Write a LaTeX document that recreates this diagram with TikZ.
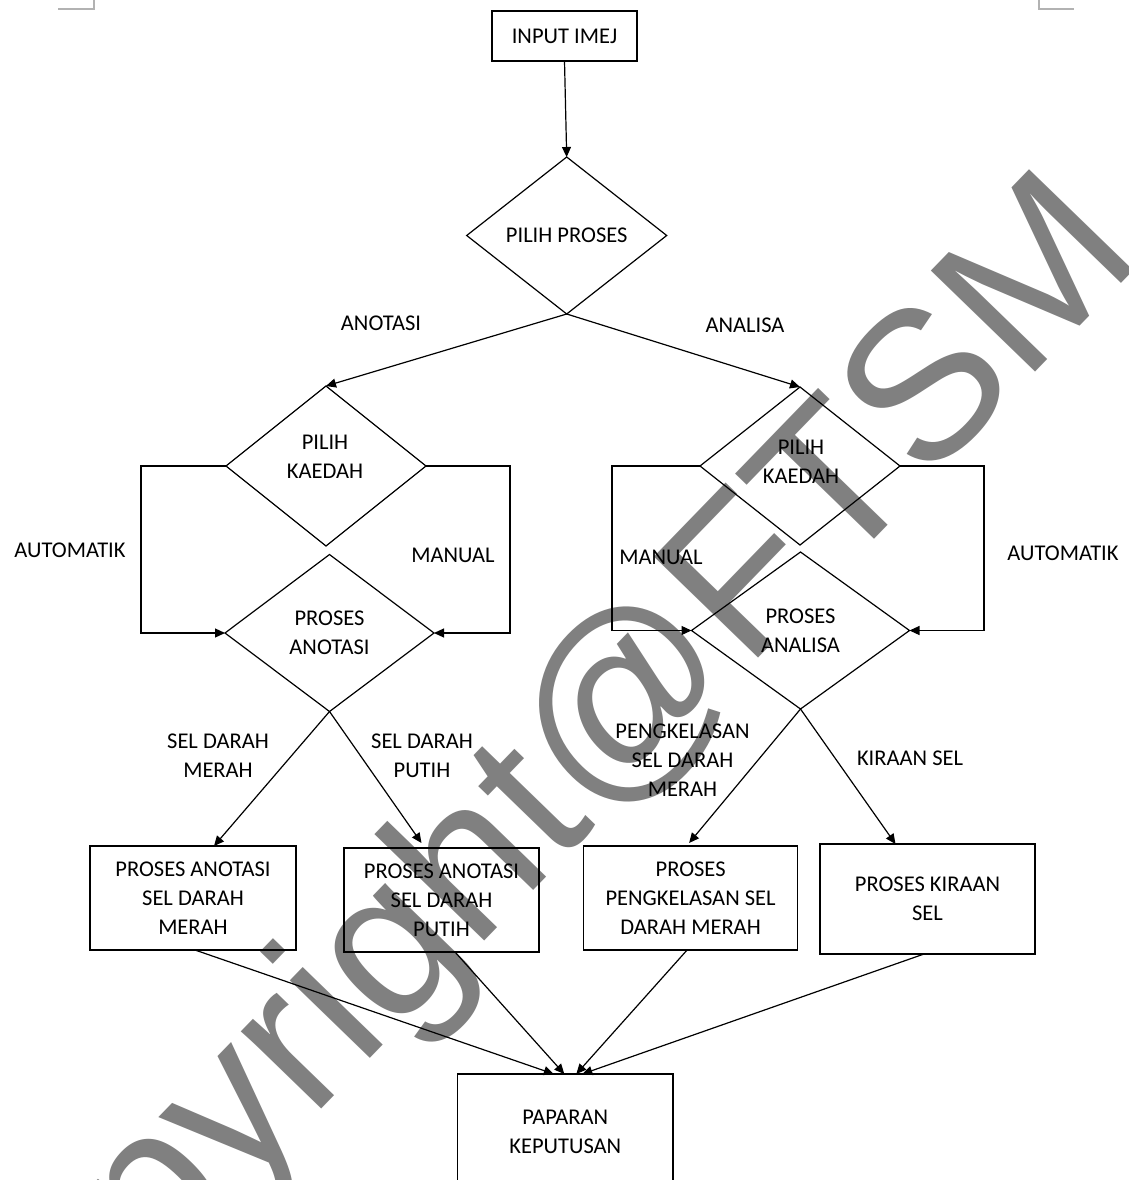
\documentclass[tikz,border=0pt]{standalone}
\usepackage{fontspec}
\setmainfont{Carlito}
\newfontfamily\wmfont{Liberation Sans}
\usetikzlibrary{shapes.geometric,arrows.meta}
\begin{document}
\begin{tikzpicture}[x=1pt,y=-1pt,
  every node/.style={font=\fontsize{22.5}{29}\selectfont, inner sep=0pt, outer sep=0pt},
  ln/.style={line width=1.2pt},
  arr/.style={ln,-{Triangle[length=10pt,width=9pt]}},
  boxn/.style={draw,ln,rectangle},
  dia/.style={draw,ln,diamond},
  txt/.style={align=center},
  wmark/.style={rotate=45.9, anchor=base west, text=black!50, font=\wmfont\fontsize{211}{211}\selectfont}
]
\useasboundingbox (0,0) rectangle (1129,1180);
\clip (0,0) rectangle (1129,1180);
\fill[white] (0,0) rectangle (1129,1180);

% watermark
\node[wmark] (wm) at (-31,1473) {Copyright@FTSM};

% page corner marks
\draw[black!30, line width=1.2pt] (58,9) -- (94,9) -- (94,0);
\draw[black!30, line width=1.2pt] (1039,0) -- (1039,9) -- (1074,9);

% nodes
\node[boxn, minimum width=145pt, minimum height=50pt] (in) at (564.5,36) {INPUT IMEJ};
\node[dia, minimum width=200pt, minimum height=157pt] (pp) at (566.7,235.5) {PILIH PROSES};

\node[dia, minimum width=200pt, minimum height=160pt] (pk1) at (326,466) {};
\node[txt] (pk1t) at (325,457) {PILIH\\KAEDAH};
\node[dia, minimum width=200pt, minimum height=158pt] (pk2) at (800,466) {};
\node[txt] (pk2t) at (801,462) {PILIH\\KAEDAH};

\node[dia, minimum width=209pt, minimum height=157pt, txt] (pa1) at (329.5,633) {PROSES\\ANOTASI};
\node[dia, minimum width=218pt, minimum height=157pt, txt] (pa2) at (800.5,630.5) {PROSES\\ANALISA};

\node[boxn, txt, minimum width=206pt, minimum height=104pt] (b1) at (193,898) {PROSES ANOTASI\\SEL DARAH\\MERAH};
\node[boxn, txt, minimum width=195pt, minimum height=104pt] (b2) at (441.5,900) {PROSES ANOTASI\\SEL DARAH\\PUTIH};
\node[boxn, txt, minimum width=214pt, minimum height=104pt] (b3) at (690.6,898) {PROSES\\PENGKELASAN SEL\\DARAH MERAH};
\node[boxn, txt, minimum width=215pt, minimum height=110pt] (b4) at (927.5,899) {PROSES KIRAAN\\SEL};
\node[boxn, txt, minimum width=215.5pt, minimum height=116pt] (out) at (565.3,1132) {PAPARAN\\KEPUTUSAN};

% labels
\node (lanot) at (381,323) {ANOTASI};
\node (lanal) at (745,325) {ANALISA};
\node (lauto1) at (70,550) {AUTOMATIK};
\node (lman1) at (453,555) {MANUAL};
\node (lman2) at (661,557) {MANUAL};
\node (lauto2) at (1063,553) {AUTOMATIK};
\node[txt] (lsdm) at (218,756) {SEL DARAH\\MERAH};
\node[txt] (lsdp) at (422,756) {SEL DARAH\\PUTIH};
\node[txt] (lpk) at (682.5,760) {PENGKELASAN\\SEL DARAH\\MERAH};
\node (lks) at (910,758) {KIRAAN SEL};

% connectors
\draw[arr] (in.south) -- (pp.north);
\draw[arr] (pp.south) -- (pk1.north);
\draw[arr] (pp.south) -- (pk2.north);

\draw[arr] (pk1.west) -- ++(-85,0) |- (pa1.west);
\draw[arr] (pk1.east) -- ++(84,0) |- (pa1.east);
\draw[arr] (pk2.west) -- ++(-88,0) |- (pa2.west);
\draw[arr] (pk2.east) -- ++(84,0) |- (pa2.east);

\draw[arr] (pa1.south) -- ([xshift=21pt]b1.north);
\draw[arr] (pa1.south) -- ([xshift=-20pt,yshift=5pt]b2.north);
\draw[arr] (pa2.south) -- ([xshift=-1.5pt,yshift=3pt]b3.north);
\draw[arr] (pa2.south) -- ([xshift=-32pt]b4.north);

\draw[arr] ([xshift=2pt]b1.south) -- ([xshift=-11.5pt]out.north);
\draw[arr] ([xshift=13.5pt]b2.south) -- ([xshift=-1pt]out.north);
\draw[arr] ([xshift=-3.5pt]b3.south) -- ([xshift=11pt]out.north);
\draw[arr] ([xshift=-3.5pt]b4.south) -- ([xshift=17pt]out.north);
\end{tikzpicture}
\end{document}
